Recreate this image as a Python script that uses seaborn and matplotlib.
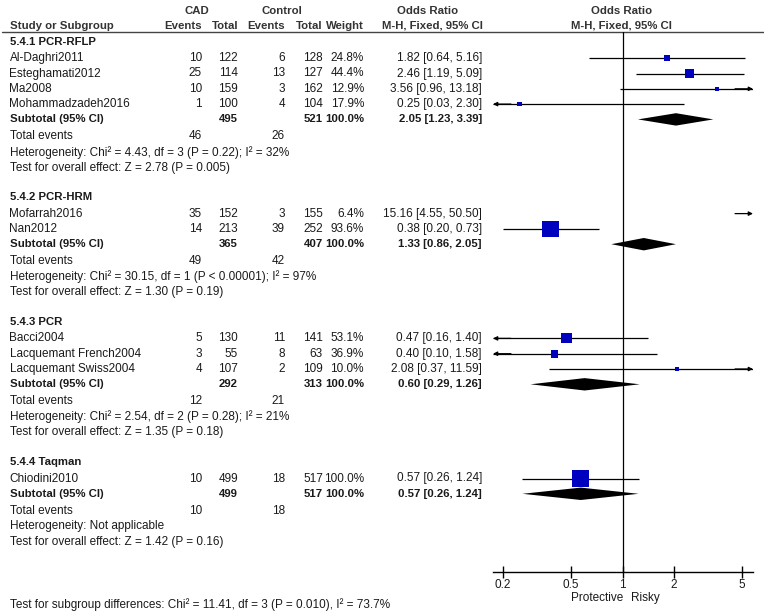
import numpy as np
import pandas as pd
import seaborn as sns
import matplotlib.pyplot as plt

# study level data
study = ["Al-Daghri2011", "Esteghamati2012", "Ma2008", "Mohammadzadeh2016",
         "Mofarrah2016", "Nan2012",
         "Bacci2004", "Lacquemant French2004", "Lacquemant Swiss2004",
         "Chiodini2010"]
study_group = [0, 0, 0, 0, 1, 1, 2, 2, 2, 3]
cad_events = [10, 25, 10, 1, 35, 14, 5, 3, 4, 10]
cad_total = [122, 114, 159, 100, 152, 213, 130, 55, 107, 499]
ctl_events = [6, 13, 3, 4, 3, 39, 11, 8, 2, 18]
ctl_total = [128, 127, 162, 104, 155, 252, 141, 63, 109, 517]
weight = [24.8, 44.4, 12.9, 17.9, 6.4, 93.6, 53.1, 36.9, 10.0, 100.0]
odds = [1.82, 2.46, 3.56, 0.25, 15.16, 0.38, 0.47, 0.40, 2.08, 0.57]
ci_low = [0.64, 1.19, 0.96, 0.03, 4.55, 0.20, 0.16, 0.10, 0.37, 0.26]
ci_high = [5.16, 5.09, 13.18, 2.30, 50.50, 0.73, 1.40, 1.58, 11.59, 1.24]

# subgroup data
groups = ["5.4.1 PCR-RFLP", "5.4.2 PCR-HRM", "5.4.3 PCR", "5.4.4 Taqman"]
sub_cad_total = [495, 365, 292, 499]
sub_ctl_total = [521, 407, 313, 517]
sub_cad_events = [46, 49, 12, 10]
sub_ctl_events = [26, 42, 21, 18]
sub_odds = [2.05, 1.33, 0.60, 0.57]
sub_low = [1.23, 0.86, 0.29, 0.26]
sub_high = [3.39, 2.05, 1.26, 1.24]
heterogeneity = [
    "Heterogeneity: Chi² = 4.43, df = 3 (P = 0.22); I² = 32%",
    "Heterogeneity: Chi² = 30.15, df = 1 (P < 0.00001); I² = 97%",
    "Heterogeneity: Chi² = 2.54, df = 2 (P = 0.28); I² = 21%",
    "Heterogeneity: Not applicable",
]
overall = [
    "Test for overall effect: Z = 2.78 (P = 0.005)",
    "Test for overall effect: Z = 1.30 (P = 0.19)",
    "Test for overall effect: Z = 1.35 (P = 0.18)",
    "Test for overall effect: Z = 1.42 (P = 0.16)",
]
subgroup_test = "Test for subgroup differences: Chi² = 11.41, df = 3 (P = 0.010), I² = 73.7%"
ticks = [0.2, 0.5, 1, 2, 5]
tick_labels = ["0.2", "0.5", "1", "2", "5"]

df = pd.DataFrame({"study": study, "group": study_group, "cad_e": cad_events,
                   "cad_n": cad_total, "ctl_e": ctl_events, "ctl_n": ctl_total,
                   "weight": weight, "odds": odds, "lo": ci_low, "hi": ci_high})

# row layout (pixel rows, top down)
W, H = 764, 611
y = 41.7
head_y, sub_y, tot_y, het_y, test_y = [], [], [], [], []
row_y = []
for g in range(len(groups)):
    head_y.append(y)
    y += 16.5
    for _ in df.index[df.group == g]:
        row_y.append(y)
        y += 15.3
    sub_y.append(y)
    y += 17
    tot_y.append(y)
    y += 15.7
    het_y.append(y)
    y += 15.5
    test_y.append(y)
    y += 29.5
df["y"] = row_y

sns.set_theme(style="white")
plt.rcParams["font.family"] = ["Liberation Sans", "DejaVu Sans"]
FS = 8.5
FSB = 8.2
TXT = "#1a1a1a"
LX = 9.5

fig = plt.figure(figsize=(W / 100, H / 100), dpi=100)
bg = fig.add_axes([0, 0, 1, 1])
bg.set_xlim(0, W)
bg.set_ylim(H, 0)
bg.axis("off")


def txt(x, yy, s, ha="left", bold=False, color=TXT):
    bg.text(x, yy, s, ha=ha, va="center", fontsize=FSB if bold else FS,
            color=color, fontweight="bold" if bold else "normal")


# column header
hc = "#333333"
txt(197, 11, "CAD", "center", True, hc)
txt(282, 11, "Control", "center", True, hc)
txt(428, 11, "Odds Ratio", "center", True, hc)
txt(622, 11, "Odds Ratio", "center", True, hc)
txt(LX, 26, "Study or Subgroup", bold=True, color=hc)
txt(202, 26, "Events", "right", True, hc)
txt(238, 26, "Total", "right", True, hc)
txt(285, 26, "Events", "right", True, hc)
txt(323, 26, "Total", "right", True, hc)
txt(364, 26, "Weight", "right", True, hc)
txt(432, 26, "M-H, Fixed, 95% CI", "center", True, hc)
txt(621, 26, "M-H, Fixed, 95% CI", "center", True, hc)
bg.plot([2, W], [31.5, 31.5], color="#444444", lw=1)

cols = [202, 238, 285, 323, 364, 482]


def ci_text(o, l, h):
    return f"{o:.2f} [{l:.2f}, {h:.2f}]"


for _, r in df.iterrows():
    txt(LX, r.y, r.study)
    vals = [r.cad_e, r.cad_n, r.ctl_e, r.ctl_n, f"{r.weight:.1f}%",
            ci_text(r.odds, r.lo, r.hi)]
    for x, v in zip(cols, vals):
        txt(x, r.y, str(v), "right")

for g in range(len(groups)):
    txt(LX, head_y[g], groups[g], bold=True)
    txt(LX, sub_y[g], "Subtotal (95% CI)", bold=True)
    txt(238, sub_y[g], str(sub_cad_total[g]), "right", True)
    txt(323, sub_y[g], str(sub_ctl_total[g]), "right", True)
    txt(364, sub_y[g], "100.0%", "right", True)
    txt(482, sub_y[g], ci_text(sub_odds[g], sub_low[g], sub_high[g]), "right", True)
    txt(LX, tot_y[g], "Total events")
    txt(202, tot_y[g], str(sub_cad_events[g]), "right")
    txt(285, tot_y[g], str(sub_ctl_events[g]), "right")
    txt(LX, het_y[g], heterogeneity[g])
    txt(LX, test_y[g], overall[g])

txt(LX, 605, subgroup_test)
txt(597, 598, "Protective", "center")
txt(645, 598, "Risky", "center")

# forest panel
x0, x1, ytop, ybot = 493, 753, 32, 572
ax = fig.add_axes([x0 / W, (H - ybot) / H, (x1 - x0) / W, (ybot - ytop) / H])
ax.patch.set_alpha(0)
ax.set_xscale("log")
lim_lo, lim_hi = 10 ** -0.757, 10 ** 0.762
ax.set_xlim(lim_lo, lim_hi)
ax.set_ylim(ybot, ytop)
for s in ["top", "left", "right"]:
    ax.spines[s].set_visible(False)
ax.spines["bottom"].set_color("black")
ax.spines["bottom"].set_linewidth(1)
ax.axvline(1, color="black", lw=0.9)
ax.set_xticks(ticks)
ax.set_xticklabels(tick_labels)
ax.minorticks_off()
ax.tick_params(axis="x", direction="inout", length=8, width=1, color="black",
               labelsize=FS, labelcolor=TXT, pad=1, bottom=True)
ax.set_yticks([])

arrow_kw = dict(arrowstyle="-|>", mutation_scale=6, lw=0.9, color="black",
                shrinkA=0, shrinkB=0)
inner = 10 ** 0.105
for _, r in df.iterrows():
    if r.odds > lim_hi:
        ax.annotate("", xy=(lim_hi, r.y), xytext=(lim_hi / inner, r.y),
                    arrowprops=arrow_kw)
        continue
    lo = max(r.lo, lim_lo)
    hi = min(r.hi, lim_hi)
    ax.plot([lo, hi], [r.y, r.y], color="black", lw=0.9, solid_capstyle="butt")
    if r.lo < lim_lo:
        ax.annotate("", xy=(lim_lo, r.y), xytext=(lim_lo * inner, r.y),
                    arrowprops=arrow_kw)
    if r.hi > lim_hi:
        ax.annotate("", xy=(lim_hi, r.y), xytext=(lim_hi / inner, r.y),
                    arrowprops=arrow_kw)

shown = df[df.odds < lim_hi].copy()
side_px = 2 + 0.153 * shown.weight
sns.scatterplot(data=shown, x="odds", y="y", marker="s", s=(side_px * 0.72) ** 2,
                color="#0000BF", linewidth=0, ax=ax, legend=False, zorder=5)
ax.set_xlabel("")
ax.set_ylabel("")

for g in range(len(groups)):
    yy = sub_y[g]
    ax.fill([sub_low[g], sub_odds[g], sub_high[g], sub_odds[g]],
            [yy, yy - 6.2, yy, yy + 6.2], color="black", lw=0, zorder=6)

fig.savefig("out.png", dpi=100)
